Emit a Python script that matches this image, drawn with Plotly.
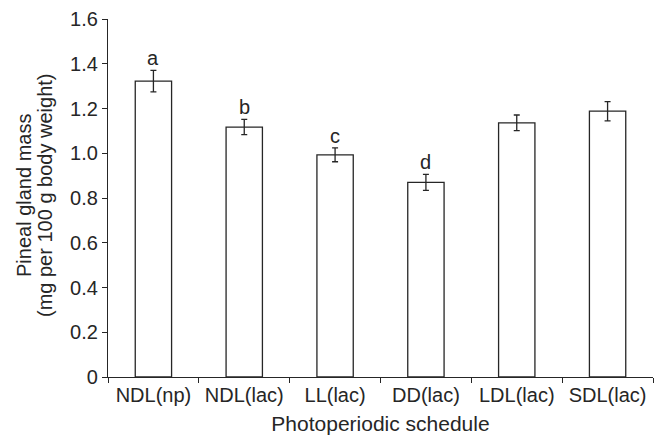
import plotly.graph_objects as go

categories = ["NDL(np)", "NDL(lac)", "LL(lac)", "DD(lac)", "LDL(lac)", "SDL(lac)"]
means = [1.322, 1.117, 0.993, 0.870, 1.136, 1.188]
errors = [0.048, 0.034, 0.031, 0.036, 0.035, 0.043]
letters = ["a", "b", "c", "d", "", ""]
ytick_vals = [0, 0.2, 0.4, 0.6, 0.8, 1.0, 1.2, 1.4, 1.6]
ytick_text = ["0", "0.2", "0.4", "0.6", "0.8", "1.0", "1.2", "1.4", "1.6"]
ytitle_lines = ["Pineal gland mass", "(mg per 100 g body weight)"]
xtitle = "Photoperiodic schedule"

font = "Liberation Sans, Arial, sans-serif"
ink = "#262626"

fig = go.Figure()
fig.add_trace(go.Bar(
    x=categories, y=means,
    marker=dict(color="white", line=dict(color=ink, width=1.3)),
    width=0.4,
    error_y=dict(type="data", array=errors, visible=True, color=ink, thickness=1.3, width=3),
    showlegend=False,
))

for c, m, e, l in zip(categories, means, errors, letters):
    if l:
        fig.add_annotation(x=c, y=m + e, text=l, showarrow=False, yanchor="bottom",
                           yshift=-1, font=dict(family=font, size=20, color=ink))

# y-axis title as two rotated lines (tighter line spacing than a <br> title)
for line, shift in zip(ytitle_lines, [-84, -63]):
    fig.add_annotation(xref="paper", yref="paper", x=0, y=0.5, xshift=shift, yshift=2,
                       text=line, textangle=-90, showarrow=False,
                       xanchor="center", yanchor="middle",
                       font=dict(family=font, size=20, color=ink))

fig.update_layout(
    width=662, height=440,
    margin=dict(l=108, r=9, t=19, b=63),
    plot_bgcolor="white", paper_bgcolor="white",
    font=dict(family=font, size=20, color=ink),
)
fig.update_xaxes(
    type="category", showline=True, linecolor=ink, linewidth=1.3, automargin=False,
    ticks="outside", tickson="boundaries", ticklen=5, tickcolor=ink, tickwidth=1.3,
    title=dict(text=xtitle, standoff=11, font=dict(size=21)),
    tickfont=dict(size=20), showgrid=False,
)
fig.update_yaxes(
    range=[0, 1.6], tickvals=ytick_vals, ticktext=ytick_text,
    showline=True, linecolor=ink, linewidth=1.3, automargin=False,
    ticks="outside", ticklen=5, tickcolor=ink, tickwidth=1.3,
    showgrid=False, zeroline=False,
    tickfont=dict(size=20),
)

fig.write_html("out.html", config={"displayModeBar": False},
               post_script="document.body.style.margin='0';")
